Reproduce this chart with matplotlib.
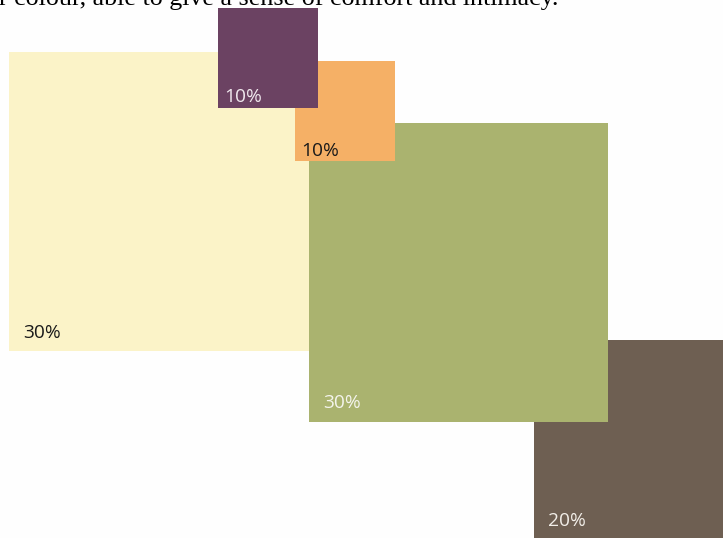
import matplotlib
matplotlib.use("Agg")
import matplotlib.pyplot as plt
from matplotlib.patches import Rectangle

# data
labels = ["30%", "20%", "30%", "10%", "10%"]
values = [30, 20, 30, 10, 10]
colors = ["#FBF3C8", "#6E5F52", "#AAB36F", "#F5B066", "#6B4262"]
text_colors = ["#1a1a1a", "#F2EEE8", "#F4F4EC", "#1a1a1a", "#F0E8EE"]
caption = "r colour, able to give a sense of comfort and intimacy."

# layout (pixel positions of top-left corners, drawing order bottom->top)
W, H = 723, 538
origins = [(9, 52), (534, 340), (309, 123), (295, 61), (218, 8)]
px_per_pct = 9.95

fig = plt.figure(figsize=(W / 100, H / 100), dpi=100)
fig.patch.set_facecolor("#FEFEFE")
ax = fig.add_axes([0, 0, 1, 1])
ax.set_xlim(0, W)
ax.set_ylim(H, 0)
ax.axis("off")

for i, (lab, v, c, tc, (x0, y0)) in enumerate(zip(labels, values, colors, text_colors, origins)):
    side = v * px_per_pct
    if i == 0:
        side += 2  # tucks under the green square
    ax.add_patch(Rectangle((x0, y0), side, side - (2 if i == 0 else 0), facecolor=c,
                           edgecolor="none", zorder=i + 1))
    off_x = 14 if v >= 20 else 6
    off_y = 13 if v >= 20 else 5
    ax.text(x0 + off_x, y0 + v * px_per_pct - off_y, lab, color=tc, fontsize=13.8,
            family="Open Sans", ha="left", va="baseline", zorder=i + 1.5)

ax.text(-1, 4.5, caption, family="Liberation Serif", fontsize=18.7, color="black",
        ha="left", va="baseline", zorder=10)

fig.savefig("out.png", dpi=100, facecolor=fig.get_facecolor())
